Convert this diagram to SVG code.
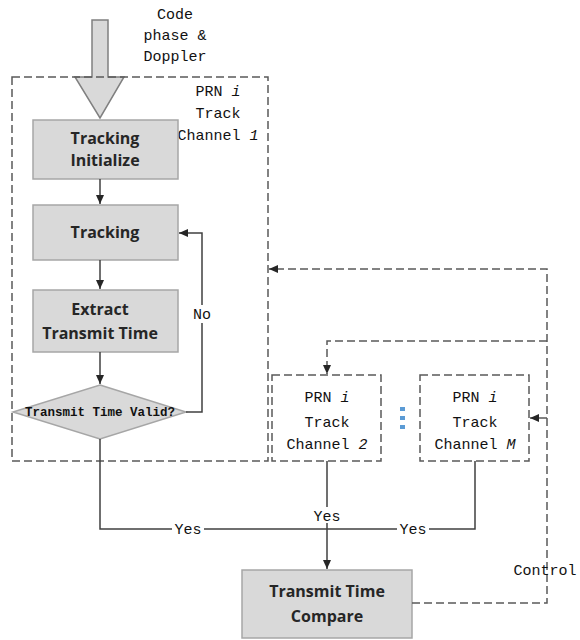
<svg xmlns="http://www.w3.org/2000/svg" width="580" height="640" viewBox="0 0 580 640">
<style>
.box{fill:#d9d9d9;stroke:#a6a6a6;stroke-width:1.5}
.bt{font-family:"Open Sans","Liberation Sans",sans-serif;font-weight:bold;font-size:16px;fill:#262626;text-anchor:middle}
.mt{font-family:"Liberation Mono","DejaVu Sans Mono",monospace;font-size:15px;fill:#111;text-anchor:middle}
.dash{fill:none;stroke:#595959;stroke-width:1.5;stroke-dasharray:8,4}
.ln{fill:none;stroke:#404040;stroke-width:1.5}
.it{font-style:italic}
</style>
<defs>
<marker id="ah" markerWidth="10" markerHeight="10" refX="9" refY="5" orient="auto" markerUnits="userSpaceOnUse">
<path d="M0,1 L9,5 L0,9 Z" fill="#262626"/>
</marker>
</defs>
<rect width="580" height="640" fill="#fff"/>
<g id="input-arrow">
<path d="M92,20 L108,20 L108,77 L124,77 L100,118 L75,77 L92,77 Z" fill="#d9d9d9" stroke="#808080" stroke-width="1.5"/>
<text class="mt" x="175" y="19">Code</text>
<text class="mt" x="175" y="40">phase &amp;</text>
<text class="mt" x="175" y="61">Doppler</text>
</g>
<g id="channel1">
<rect class="dash" x="12" y="77" width="256" height="384"/>
<text class="mt" x="218" y="96">PRN <tspan class="it">i</tspan></text>
<text class="mt" x="218" y="118">Track</text>
<text class="mt" x="218" y="140">Channel <tspan class="it">1</tspan></text>
</g>
<g id="tracking-init">
<rect class="box" x="33" y="120" width="145" height="59"/>
<text class="bt" x="105" y="144">Tracking</text>
<text class="bt" x="105" y="166">Initialize</text>
</g>
<g id="tracking">
<rect class="box" x="33" y="205" width="145" height="55"/>
<text class="bt" x="105" y="238">Tracking</text>
</g>
<g id="extract">
<rect class="box" x="33" y="290" width="145" height="62"/>
<text class="bt" x="100" y="315">Extract</text>
<text class="bt" x="100" y="339">Transmit Time</text>
</g>
<g id="valid">
<path d="M100,385 L186,412 L100,439 L13,412 Z" fill="#d9d9d9" stroke="#a6a6a6" stroke-width="1.5"/>
<text class="mt" x="100" y="416" style="font-size:12.5px;font-weight:bold">Transmit Time Valid?</text>
</g>
<g id="channel2">
<rect class="dash" x="272" y="375" width="109" height="86"/>
<text class="mt" x="327" y="402">PRN <tspan class="it">i</tspan></text>
<text class="mt" x="327" y="427">Track</text>
<text class="mt" x="327" y="449">Channel <tspan class="it">2</tspan></text>
</g>
<g id="dots" fill="#5b9bd5">
<rect x="400" y="407" width="5" height="4"/>
<rect x="400" y="416" width="5" height="4"/>
<rect x="400" y="425" width="5" height="4"/>
</g>
<g id="channelM">
<rect class="dash" x="420" y="375" width="109" height="86"/>
<text class="mt" x="475" y="402">PRN <tspan class="it">i</tspan></text>
<text class="mt" x="475" y="427">Track</text>
<text class="mt" x="475" y="449">Channel <tspan class="it">M</tspan></text>
</g>
<g id="compare">
<rect class="box" x="242" y="570" width="170" height="68"/>
<text class="bt" x="327" y="597">Transmit Time</text>
<text class="bt" x="327" y="622">Compare</text>
</g>
<g id="connectors">
<line class="ln" x1="100" y1="179" x2="100" y2="204" marker-end="url(#ah)"/>
<line class="ln" x1="100" y1="260" x2="100" y2="289" marker-end="url(#ah)"/>
<line class="ln" x1="100" y1="352" x2="100" y2="384" marker-end="url(#ah)"/>
<path class="ln" d="M186,412 L202,412 L202,233 L179,233" marker-end="url(#ah)"/>
<path class="ln" d="M100,439 L100,529 L475,529 L475,461"/>
<path class="ln" d="M327,461 L327,569" marker-end="url(#ah)"/>
<path class="dash" d="M412,603 L547,603 L547,269 L269,269" marker-end="url(#ah)"/>
<path class="dash" d="M547,341 L327,341 L327,374" marker-end="url(#ah)"/>
<path class="dash" d="M547,418 L530,418" marker-end="url(#ah)"/>
<g class="mt">
<rect x="190" y="305" width="24" height="18" fill="#fff"/>
<text class="mt" x="202" y="319">No</text>
<rect x="172" y="521" width="32" height="16" fill="#fff"/>
<text class="mt" x="188" y="534">Yes</text>
<rect x="311" y="507" width="32" height="16" fill="#fff"/>
<text class="mt" x="327" y="521">Yes</text>
<rect x="397" y="521" width="32" height="16" fill="#fff"/>
<text class="mt" x="413" y="534">Yes</text>
<text class="mt" x="545" y="575">Control</text>
</g>
</g>
</svg>
